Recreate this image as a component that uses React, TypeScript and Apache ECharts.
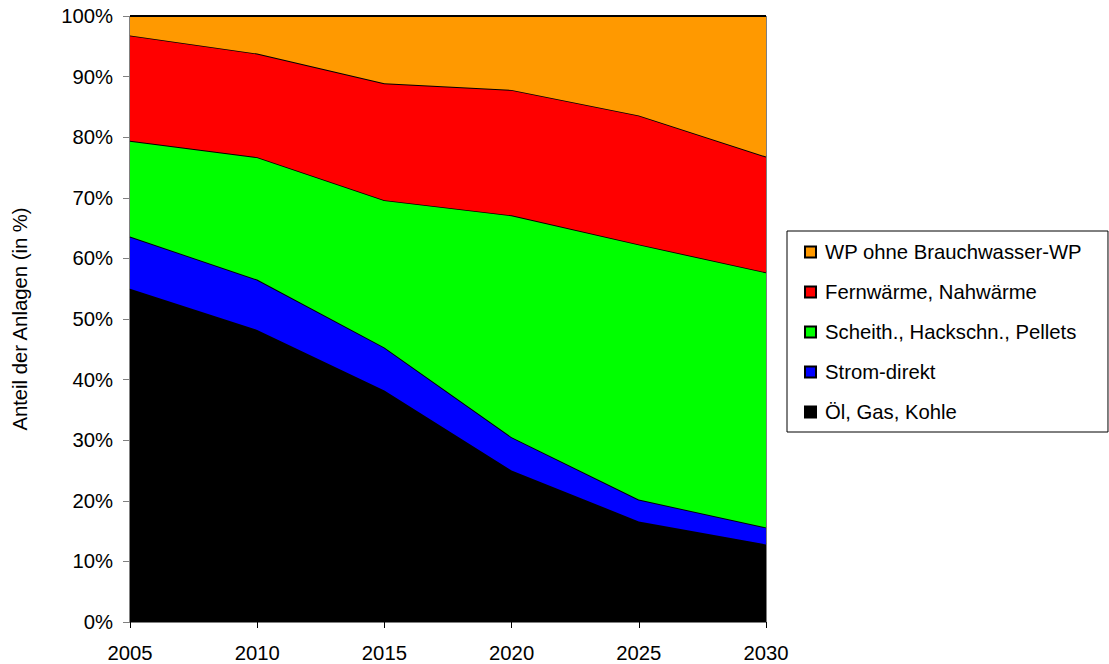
import React, { useEffect, useRef } from "react";
import * as echarts from "echarts";

const years = ["2005", "2010", "2015", "2020", "2025", "2030"];
const seriesNames = [
  "Öl, Gas, Kohle",
  "Strom-direkt",
  "Scheith., Hackschn., Pellets",
  "Fernwärme, Nahwärme",
  "WP ohne Brauchwasser-WP",
];
const colors = ["#000000", "#0000FF", "#00FF00", "#FF0000", "#FF9900"];
const oelGasKohle = [55.0, 48.2, 38.2, 25.0, 16.6, 12.8];
const stromDirekt = [8.6, 8.3, 7.1, 5.5, 3.6, 2.8];
const holz = [15.8, 20.2, 24.3, 36.6, 42.1, 42.1];
const fernwaerme = [17.4, 17.1, 19.3, 20.7, 21.3, 19.1];
const waermepumpe = [3.2, 6.2, 11.1, 12.2, 16.4, 23.2];
const seriesValues = [oelGasKohle, stromDirekt, holz, fernwaerme, waermepumpe];
const legendOrder = [...seriesNames].reverse();
const yTickLabel = (v: number) => `${v}%`;

const FONT = "'Liberation Sans', Arial, sans-serif";
const FS = 20.3;

export default function App() {
  const ref = useRef<HTMLDivElement>(null);
  useEffect(() => {
    if (!ref.current) return;
    const chart = echarts.init(ref.current, undefined, { renderer: "svg" });
    chart.setOption({
      animation: false,
      textStyle: { fontFamily: FONT, color: "#000" },
      grid: {
        left: 130,
        top: 16,
        right: 343,
        bottom: 42,
        outerBoundsMode: "none",
        containLabel: false,
        show: true,
        borderColor: "#000",
        borderWidth: 1,
        backgroundColor: "transparent",
      },
      legend: {
        orient: "vertical",
        left: 787,
        top: 231,
        data: legendOrder,
        icon: "rect",
        itemWidth: 11,
        itemHeight: 11,
        itemGap: 18,
        padding: [10, 26, 9, 17],
        borderColor: "#000",
        borderWidth: 1,
        backgroundColor: "#fff",
        textStyle: {
          fontFamily: FONT,
          fontSize: FS,
          color: "#000",
          lineHeight: 22,
          padding: [0, 0, 0, 4],
        },
      },
      xAxis: {
        type: "category",
        data: years,
        boundaryGap: false,
        axisLine: { show: true, lineStyle: { color: "#808080", width: 1 } },
        axisTick: { show: true, length: 6, lineStyle: { color: "#000" } },
        axisLabel: {
          fontFamily: FONT,
          fontSize: FS,
          color: "#000",
          margin: 21,
          showMaxLabel: true,
          showMinLabel: true,
        },
        splitLine: { show: false },
      },
      yAxis: {
        type: "value",
        min: 0,
        max: 100,
        interval: 10,
        name: "Anteil der Anlagen (in %)",
        nameLocation: "middle",
        nameGap: 100,
        nameRotate: 90,
        nameTextStyle: { fontFamily: FONT, fontSize: FS, color: "#000" },
        axisLine: { show: true, lineStyle: { color: "#000", width: 1 } },
        axisTick: { show: true, length: 7, lineStyle: { color: "#808080" } },
        axisLabel: {
          fontFamily: FONT,
          fontSize: FS,
          color: "#000",
          margin: 17,
          formatter: yTickLabel,
        },
        splitLine: { show: false },
      },
      series: seriesNames.map((name, i) => ({
        name,
        type: "line",
        stack: "total",
        data: seriesValues[i],
        showSymbol: false,
        symbol: "none",
        color: colors[i],
        itemStyle: { color: colors[i], borderColor: "#000", borderWidth: 1 },
        lineStyle: { color: "#000", width: 1.8 },
        areaStyle: { color: colors[i], opacity: 1 },
        z: 2 + i,
      })),
    });
    return () => chart.dispose();
  }, []);
  return (
    <div
      ref={ref}
      style={{ position: "fixed", left: 0, top: 0, width: 1109, height: 664, background: "#fff" }}
    />
  );
}
